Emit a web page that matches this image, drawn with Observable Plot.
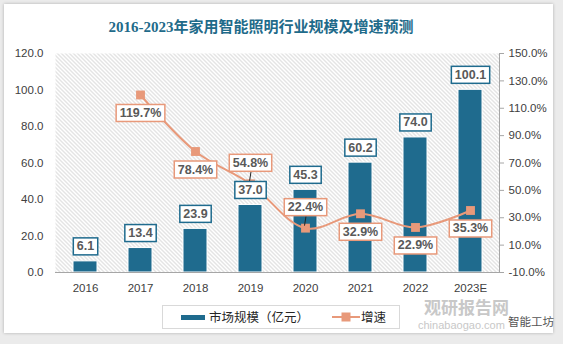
<!DOCTYPE html>
<html><head><meta charset="utf-8">
<script src="https://cdn.jsdelivr.net/npm/d3@7"></script>
<script src="https://cdn.jsdelivr.net/npm/@observablehq/plot@0.6"></script>
<style>
body{margin:0;width:563px;height:344px;background:#ebebeb;position:relative;overflow:hidden;font-family:"Liberation Sans","Noto Sans CJK SC",sans-serif;}
#card{position:absolute;left:4px;top:4px;width:549px;height:329px;background:#fff;box-shadow:0 0 3px rgba(0,0,0,0.25);}
#title{position:absolute;left:0;top:17px;width:522px;text-align:center;font-weight:bold;font-size:15px;line-height:20px;font-family:"Liberation Serif","Noto Sans CJK SC",serif;color:#1f6b8a;}
#chart{position:absolute;left:0;top:0;}
#legend{position:absolute;left:162px;top:305px;width:236px;height:22px;border:1px solid #d9d9d9;background:#fff;font-family:"Noto Sans CJK SC",sans-serif;font-size:12.5px;color:#262626;}
#legend .sw1{position:absolute;left:18px;top:9px;width:24px;height:5px;background:#1f6b8e;}
#legend .t1{position:absolute;left:46px;top:2px;line-height:18px;}
#legend svg{position:absolute;left:169px;top:3px;}
#legend .t2{position:absolute;left:198px;top:2px;line-height:18px;}
.wm{position:absolute;white-space:nowrap;line-height:1;}
</style></head>
<body>
<div id="card"></div>
<div id="title">2016-2023年家用智能照明行业规模及增速预测</div>
<div id="chart"></div>
<div class="wm" style="left:424px;top:298px;font-size:17px;font-weight:bold;color:#c8c8c8;font-family:'Noto Sans CJK SC';">观研报告网</div>
<div class="wm" style="left:418px;top:320px;font-size:11px;color:#c8c8c8;font-family:'Liberation Sans';">chinabaogao.com</div>
<div class="wm" style="left:508px;top:316px;font-size:11.5px;color:#555;font-family:'Noto Sans CJK SC';">智能工坊</div>
<div id="legend">
  <div class="sw1"></div><div class="t1">市场规模（亿元）</div>
  <svg width="28" height="16"><line x1="0" y1="8" x2="28" y2="8" stroke="#e8997a" stroke-width="2"/><rect x="9.5" y="3.5" width="9" height="9" fill="#e8997a"/></svg>
  <div class="t2">增速</div>
</div>
<script>
const years = ["2016","2017","2018","2019","2020","2021","2022","2023E"];
const marketSize = [6.1, 13.4, 23.9, 37.0, 45.3, 60.2, 74.0, 100.1];
const growth = [null, 119.7, 78.4, 54.8, 22.4, 32.9, 22.9, 35.3];
const leftTicks = [0, 20, 40, 60, 80, 100, 120];
const rightTicks = [-10, 10, 30, 50, 70, 90, 110, 130, 150];
const labelAbove = ["2019", "2020"];

const L0 = leftTicks[0], L1 = leftTicks[leftTicks.length-1];
const R0 = rightTicks[0], R1 = rightTicks[rightTicks.length-1];
const toLeft = g => L0 + (g - R0) * (L1 - L0) / (R1 - R0);
const fromLeft = v => R0 + (v - L0) * (R1 - R0) / (L1 - L0);

const sizeData = years.map((year, i) => ({year, size: marketSize[i]}));
const growthData = years.map((year, i) => ({year, growth: growth[i]})).filter(d => d.growth != null);
const gY = d => toLeft(d.growth);

const labelStyle = {fontSize: 12.5, fontWeight: "bold", fill: "#595959", fontFamily: "Liberation Sans, sans-serif", lineAnchor: "middle"};

const chart = Plot.plot({
  width: 563, height: 300,
  marginTop: 53, marginBottom: 28, marginLeft: 55, marginRight: 64,
  style: {background: "transparent", fontFamily: "Liberation Sans, sans-serif", fontSize: "11.5px", color: "#404040", overflow: "visible"},
  x: {domain: years, paddingInner: 0.57, paddingOuter: 0.285, label: null},
  y: {domain: [L0, L1], label: null},
  marks: [
    Plot.frame({fill: "#eeeeee", stroke: "none"}),
    Plot.barY(sizeData, {x: "year", y: "size", fill: "#1f6b8e", stroke: "#ffffff", strokeWidth: 1}),
    Plot.ruleY([0], {stroke: "#a6a6a6", strokeWidth: 1.2}),
    Plot.frame({anchor: "right", stroke: "#a6a6a6"}),
    Plot.axisY(leftTicks, {anchor: "left", tickSize: 0, tickPadding: 12, tickFormat: d => d.toFixed(1), label: null}),
    Plot.axisY(rightTicks.map(toLeft), {anchor: "right", tickSize: 4, tickPadding: 5, stroke: "#a6a6a6", tickFormat: v => fromLeft(v).toFixed(1) + "%", label: null}),
    Plot.axisX({tickSize: 0, tickPadding: 11, label: null}),
    Plot.lineY(growthData, {x: "year", y: gY, stroke: "#e8997a", strokeWidth: 2, curve: "catmull-rom"}),
    Plot.dot(growthData, {x: "year", y: gY, symbol: "square", r: 5, fill: "#e8997a", stroke: "none"}),
    Plot.text(sizeData, {x: "year", y: "size", text: d => d.size.toFixed(1), dy: -15, ariaDescription: "barlabel", ...labelStyle}),
    Plot.text(growthData.filter(d => !labelAbove.includes(d.year)), {x: "year", y: gY, text: d => d.growth.toFixed(1) + "%", dy: 18, ariaDescription: "glabel", ...labelStyle}),
    Plot.text(growthData.filter(d => labelAbove.includes(d.year)), {x: "year", y: gY, text: d => d.growth.toFixed(1) + "%", dy: -21, ariaDescription: "glabelup", ...labelStyle})
  ]
});
document.getElementById("chart").append(chart);

const NS = "http://www.w3.org/2000/svg";
// hatched plot-area background pattern
const defs = document.createElementNS(NS, "defs");
const pat = document.createElementNS(NS, "pattern");
pat.setAttribute("id", "hatch");
pat.setAttribute("patternUnits", "userSpaceOnUse");
pat.setAttribute("width", "4");
pat.setAttribute("height", "4");
const pbg = document.createElementNS(NS, "rect");
pbg.setAttribute("width", "4"); pbg.setAttribute("height", "4"); pbg.setAttribute("fill", "#ffffff");
const pl = document.createElementNS(NS, "path");
pl.setAttribute("d", "M-1,-1 L5,5 M3,-1 L5,1 M-1,3 L1,5");
pl.setAttribute("stroke", "#c8c8c8"); pl.setAttribute("stroke-width", "1");
pat.append(pbg, pl); defs.append(pat);
chart.insertBefore(defs, chart.firstChild);
const frames = chart.querySelectorAll('[aria-label="frame"]');
if (frames.length) {
  const f = frames[0];
  const target = f.tagName.toLowerCase() === "rect" ? f : f.querySelector("rect");
  if (target) target.setAttribute("fill", "url(#hatch)");
}

function boxify(desc, stroke) {
  chart.querySelectorAll(`g[aria-description="${desc}"] text`).forEach(t => {
    const b = t.getBBox();
    const r = document.createElementNS(NS, "rect");
    r.setAttribute("x", b.x - 3.5);
    r.setAttribute("y", b.y - 1.5);
    r.setAttribute("width", b.width + 7);
    r.setAttribute("height", b.height + 3);
    if (t.getAttribute("transform")) r.setAttribute("transform", t.getAttribute("transform"));
    r.setAttribute("fill", "#ffffff");
    r.setAttribute("stroke", stroke);
    r.setAttribute("stroke-width", 1.5);
    t.parentNode.insertBefore(r, t);
  });
}
boxify("barlabel", "#1f6b8e");
boxify("glabel", "#e8997a");
boxify("glabelup", "#e8997a");

// leader lines for labels placed above their markers
const xs = chart.scale("x"), ys = chart.scale("y");
const firstLabel = chart.querySelector('g[aria-description="barlabel"]');
growthData.filter(d => labelAbove.includes(d.year)).forEach(d => {
  const cx = xs.apply(d.year) + xs.bandwidth / 2;
  const cy = ys.apply(toLeft(d.growth));
  const l = document.createElementNS(NS, "line");
  l.setAttribute("x1", cx + 1); l.setAttribute("y1", cy - 11.5);
  l.setAttribute("x2", cx - 0.5); l.setAttribute("y2", cy - 2);
  l.setAttribute("stroke", "#222"); l.setAttribute("stroke-width", 1);
  firstLabel.parentNode.insertBefore(l, firstLabel);
});
</script>
</body></html>
